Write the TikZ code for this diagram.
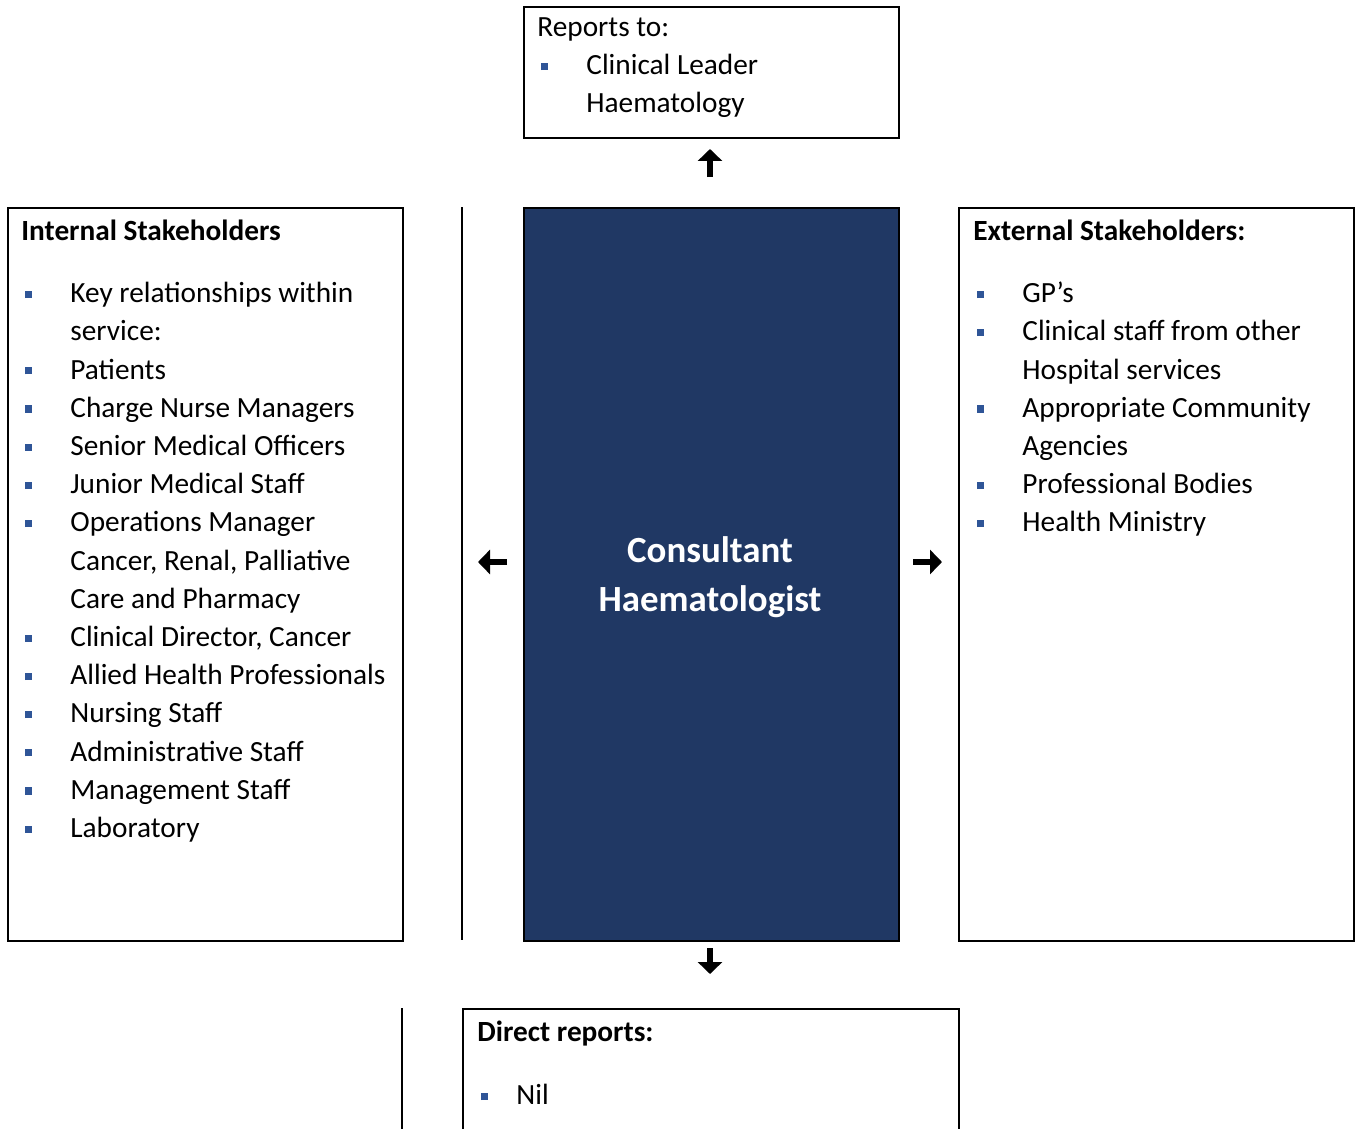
\documentclass[tikz,border=0pt]{standalone}
\usepackage{fontspec}
\setmainfont{Carlito}
\usetikzlibrary{arrows.meta}

\definecolor{navy}{HTML}{203864}
\definecolor{bulletblue}{HTML}{2F5597}
% bullet and hanging indent for the list lines
\newcommand{\bul}[1][24.5pt]{\makebox[#1][l]{\hspace{1.7pt}\textcolor{bulletblue}{\rule[2.3pt]{3.6pt}{3.6pt}}}}
\newcommand{\cont}{\hspace*{24.5pt}}

\begin{document}
\begin{tikzpicture}[x=0.5pt, y=-0.5pt]

% Define the node styles
\tikzstyle{frame}=[rectangle, draw, line width=1pt, inner sep=0pt, anchor=north west]
\tikzstyle{role}=[frame, fill=navy]
\tikzstyle{list}=[inner sep=0pt, anchor=north west, align=left, font=\fontsize{14.65}{19.1}\selectfont]
\tikzstyle{arrow}=[-{Triangle[length=6pt,width=12pt]}, line width=2.6pt]

\useasboundingbox (0,0) rectangle (1360,1129);
\clip (0,0) rectangle (1360,1129);

% Define the nodes
\node[frame, minimum width=187.5pt, minimum height=65.5pt] (reports) at (522.5,6.5) {};
\node[frame, minimum width=197.5pt, minimum height=366.5pt] (internal) at (6.5,206.5) {};
\node[role, minimum width=187.5pt, minimum height=366.5pt] (consultant) at (522.5,206.5) {};
\node[frame, minimum width=197.5pt, minimum height=366.5pt] (external) at (957.5,206.5) {};
\node[frame, minimum width=248pt, minimum height=70pt] (direct) at (461.5,1007.5) {};

\node[list] (reportstext) at (537,9.3) {\strut Reports to:\\
  \bul Clinical Leader\\
  \cont Haematology};

\node[list] (internaltext) at (21,213.3) {\strut\textbf{Internal Stakeholders}\\[12pt]
  \bul Key relationships within\\
  \cont service:\\
  \bul Patients\\
  \bul Charge Nurse Managers\\
  \bul Senior Medical Officers\\
  \bul Junior Medical Staff\\
  \bul Operations Manager\\
  \cont Cancer, Renal, Palliative\\
  \cont Care and Pharmacy\\
  \bul Clinical Director, Cancer\\
  \bul Allied Health Professionals\\
  \bul Nursing Staff\\
  \bul Administrative Staff\\
  \bul Management Staff\\
  \bul Laboratory};

\node[list] (externaltext) at (973,213.3) {\strut\textbf{External Stakeholders:}\\[12pt]
  \bul GP’s\\
  \bul Clinical staff from other\\
  \cont Hospital services\\
  \bul Appropriate Community\\
  \cont Agencies\\
  \bul Professional Bodies\\
  \bul Health Ministry};

\node[list] (directtext) at (477,1014.3) {\strut\textbf{Direct reports:}\\[12.5pt]
  \bul[19.5pt]Nil};

\node[align=center, text=white, inner sep=0pt, font=\bfseries\fontsize{18.45}{24.5}\selectfont] (title) at (710,577) {Consultant\\Haematologist};

% arrow ends
\coordinate (upfrom) at (710,177);
\coordinate (upto) at (710,149);
\coordinate (leftfrom) at (507,562);
\coordinate (leftto) at (478,562);
\coordinate (rightfrom) at (913,562);
\coordinate (rightto) at (942,562);
\coordinate (downfrom) at (710,948);
\coordinate (downto) at (710,974);

% Add the edges
\path[arrow] (upfrom) edge (upto)
          (leftfrom) edge (leftto)
          (rightfrom) edge (rightto)
          (downfrom) edge (downto);

% cell borders
\draw[line width=1pt] (462,207) -- (462,940);
\draw[line width=1pt] (402,1008) -- (402,1140);

\end{tikzpicture}
\end{document}
